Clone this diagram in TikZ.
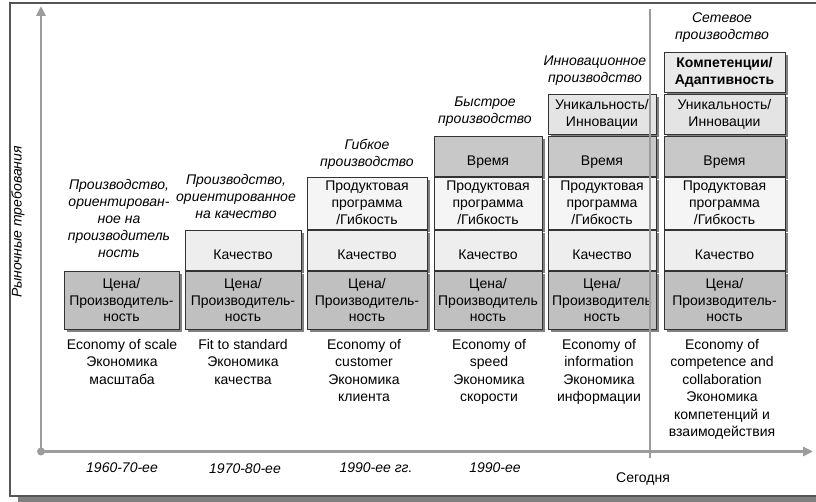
\documentclass[tikz,border=0pt]{standalone}
\usepackage{fontspec}
\setmainfont{Liberation Sans}
\usetikzlibrary{arrows.meta,shadows}
\definecolor{axisgray}{HTML}{9C9C9C}
\definecolor{framegray}{HTML}{555555}
\definecolor{cenafill}{HTML}{C0C0C0}
\definecolor{timefill}{HTML}{C8C8C8}
\definecolor{qualfill}{HTML}{EEEEEE}
\definecolor{prodfill}{HTML}{F5F5F5}
\definecolor{uniqfill}{HTML}{E4E4E4}
\definecolor{kompfill}{HTML}{EAEAEA}
\newcommand{\boxfont}{\fontsize{14}{16.8}\selectfont}
\tikzset{
  blk/.style={draw=black!80, line width=0.8pt, align=center, inner sep=1pt,
    font=\boxfont,
    drop shadow={shadow xshift=3pt, shadow yshift=-3pt, fill=black!50, opacity=1}},
  low/.style={text height=22pt, text depth=2pt},
  cena/.style={blk, fill=cenafill, minimum height=58pt},
  qual/.style={blk, low, fill=qualfill, minimum height=40pt},
  prod/.style={blk, fill=prodfill, minimum height=52pt},
  time/.style={blk, low, fill=timefill, minimum height=40pt},
  uniq/.style={blk, fill=uniqfill, minimum height=40pt},
  komp/.style={blk, fill=kompfill, minimum height=40pt, font=\boxfont\bfseries},
  hd/.style={align=center, inner sep=0pt, font=\fontsize{14}{17}\selectfont\itshape},
  eco/.style={align=center, inner sep=0pt, anchor=north, font=\fontsize{14}{17.5}\selectfont},
  era/.style={inner sep=0pt, font=\fontsize{14}{17}\selectfont\itshape},
  axis/.style={draw=axisgray, line width=2.5pt}
}
\begin{document}
\begin{tikzpicture}[x=1pt,y=-1pt]
  \useasboundingbox (0,0) rectangle (816,502);
  \clip (0,0) rectangle (816,502);
  % frame
  \fill[black!50] (18,496) rectangle (830,510);
  \draw[framegray, line width=1.2pt, fill=white] (10,3) rectangle (830,496);
  % axes
  \coordinate (o) at (41,451.5);
  \coordinate (ytop) at (41,6);
  \coordinate (xend) at (813,451.5);
  \coordinate (now1) at (650,9);
  \coordinate (now2) at (650,458);
  \draw[axis, -{Triangle[width=9pt,length=10pt]}] (o) -- (ytop);
  \draw[axis, -{Triangle[width=9pt,length=10pt]}] (o) -- (xend);
  \fill[axisgray] (o) circle (4pt);
  \node[era, rotate=90] (ylab) at (18,222) {Рыночные требования};

  % column 1
  \node[cena, minimum width=115pt] (p1) at (121.5,300) {Цена/\\Производитель-\\ность};
  % column 2
  \node[qual, minimum width=116pt] (q2) at (243,250) {Качество};
  \node[cena, minimum width=116pt] (p2) at (243,300) {Цена/\\Производитель-\\ность};
  % column 3
  \node[prod, minimum width=120pt] (f3) at (367,203) {Продуктовая\\программа\\/Гибкость};
  \node[qual, minimum width=120pt] (q3) at (367,250) {Качество};
  \node[cena, minimum width=120pt] (p3) at (367,300) {Цена/\\Производитель-\\ность};
  % column 4
  \node[time, minimum width=108pt] (t4) at (488,156) {Время};
  \node[prod, minimum width=108pt] (f4) at (488,203) {Продуктовая\\программа\\/Гибкость};
  \node[qual, minimum width=108pt] (q4) at (488,250) {Качество};
  \node[cena, minimum width=108pt] (p4) at (488,300) {Цена/\\Производитель\\ность};
  % column 5
  \node[uniq, minimum width=108pt] (u5) at (602,114) {Уникальность/\\Инновации};
  \node[time, minimum width=108pt] (t5) at (602,156) {Время};
  \node[prod, minimum width=108pt] (f5) at (602,203) {Продуктовая\\программа\\/Гибкость};
  \node[qual, minimum width=108pt] (q5) at (602,250) {Качество};
  \node[cena, minimum width=108pt] (p5) at (602,300) {Цена/\\Производитель\\ность};
  % column 6
  \node[komp, minimum width=121pt] (k6) at (724.5,72) {Компетенции/\\Адаптивность};
  \node[uniq, minimum width=121pt] (u6) at (724.5,114) {Уникальность/\\Инновации};
  \node[time, minimum width=121pt] (t6) at (724.5,156) {Время};
  \node[prod, minimum width=121pt] (f6) at (724.5,203) {Продуктовая\\программа\\/Гибкость};
  \node[qual, minimum width=121pt] (q6) at (724.5,250) {Качество};
  \node[cena, minimum width=121pt] (p6) at (724.5,300) {Цена/\\Производитель-\\ность};

  % today
  \draw[axis] (now1) -- (now2);
  \node[inner sep=0pt, font=\fontsize{14}{17}\selectfont] (today) at (643,479) {Сегодня};

  % headings
  \node[hd] (h1) at (119,218) {Производство,\\ориентирован-\\ное на\\производитель\\ность};
  \node[hd] (h2) at (236,196) {Производство,\\ориентированное\\на качество};
  \node[hd] (h3) at (367,154) {Гибкое\\производство};
  \node[hd] (h4) at (485,112) {Быстрое\\производство};
  \node[hd] (h5) at (595,71) {Инновационное\\производство};
  \node[hd] (h6) at (722,28) {Сетевое\\производство};

  % economies
  \node[eco] (e1) at (122,339) {Economy of scale\\Экономика\\масштаба};
  \node[eco] (e2) at (243,339) {Fit to standard\\Экономика\\качества};
  \node[eco] (e3) at (364,339) {Economy of\\customer\\Экономика\\клиента};
  \node[eco] (e4) at (489,339) {Economy of\\speed\\Экономика\\скорости};
  \node[eco] (e5) at (599,339) {Economy of\\information\\Экономика\\информации};
  \node[eco] (e6) at (722,339) {Economy of\\competence and\\collaboration\\Экономика\\компетенций и\\взаимодействия};

  % eras
  \node[era] (d1) at (122,468) {1960-70-ее};
  \node[era] (d2) at (245,469) {1970-80-ее};
  \node[era] (d3) at (376,468) {1990-ее гг.};
  \node[era] (d4) at (495,468) {1990-ее};
\end{tikzpicture}
\end{document}
